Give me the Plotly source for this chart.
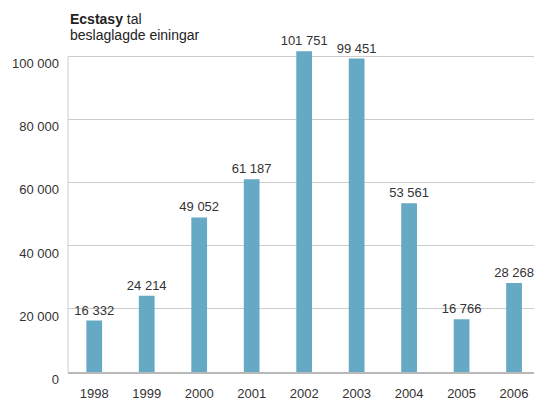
import plotly.graph_objects as go

years = ["1998", "1999", "2000", "2001", "2002", "2003", "2004", "2005", "2006"]
values = [16332, 24214, 49052, 61187, 101751, 99451, 53561, 16766, 28268]
labels = ["16 332", "24 214", "49 052", "61 187", "101 751", "99 451", "53 561", "16 766", "28 268"]
ytickvals = [0, 20000, 40000, 60000, 80000, 100000]
yticktext = ["0", "20 000", "40 000", "60 000", "80 000", "100 000"]

FONT = "Liberation Sans"
TXT = "#333333"

W, H = 534, 401
T, B, L = 47, 24, 68
PLOT_H = H - T - B
YTOP = 100000 * PLOT_H / 320.0


def py(pix):
    # pixel row -> paper y
    return (H - B - pix) / PLOT_H


fig = go.Figure()
fig.add_trace(go.Bar(
    x=list(range(len(years))),
    y=values,
    text=labels,
    textposition="outside",
    textfont=dict(family=FONT, size=13, color=TXT),
    constraintext="none",
    cliponaxis=False,
    marker=dict(color="#65a9c4", line=dict(width=0)),
    width=0.3,
    hoverinfo="skip",
))

fig.add_shape(type="line", xref="paper", yref="y", x0=0, x1=0, y0=0, y1=100000,
              line=dict(color="#cccccc", width=1), layer="below")

fig.add_annotation(text="<b>Ecstasy</b> tal", xref="paper", yref="paper",
                   x=0, y=py(8), xanchor="left", yanchor="top", showarrow=False,
                   font=dict(family=FONT, size=14, color="#222222"))
fig.add_annotation(text="beslaglagde einingar", xref="paper", yref="paper",
                   x=0, y=py(25), xanchor="left", yanchor="top", showarrow=False,
                   font=dict(family=FONT, size=14, color="#222222"))

fig.update_layout(
    width=W, height=H,
    margin=dict(l=L, r=0, t=T, b=B),
    paper_bgcolor="white", plot_bgcolor="white",
    showlegend=False,
    font=dict(family=FONT, size=13, color=TXT),
    xaxis=dict(
        range=[-0.5, 8.38],
        tickvals=list(range(len(years))),
        ticktext=years,
        showgrid=False, zeroline=False,
        showline=True, linecolor="#b8b8b8", linewidth=2,
        ticks="", ticklabelstandoff=8,
        tickfont=dict(family=FONT, size=13, color=TXT),
        fixedrange=True,
    ),
    yaxis=dict(
        range=[0, YTOP],
        tickvals=ytickvals,
        ticktext=yticktext,
        showgrid=True, gridcolor="#cccccc", gridwidth=1,
        zeroline=False,
        showline=False,
        ticks="", ticklabelstandoff=8, ticklabelshift=7,
        tickfont=dict(family=FONT, size=13, color=TXT),
        fixedrange=True,
    ),
)

fig.write_html(
    "out.html",
    config={"displayModeBar": False, "staticPlot": True},
    post_script="document.body.style.margin='0';document.body.style.overflow='hidden';",
)
